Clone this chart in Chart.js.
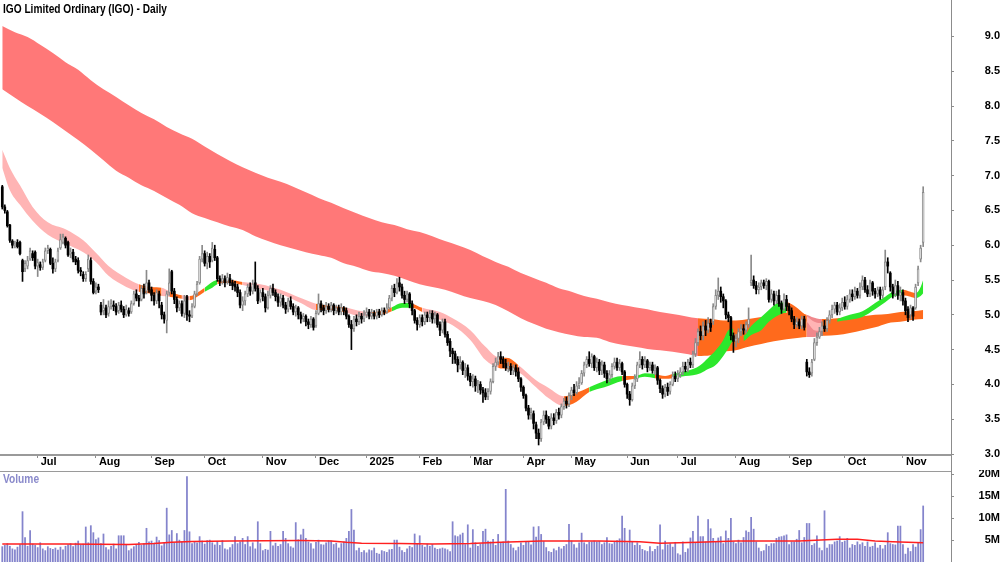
<!DOCTYPE html>
<html><head><meta charset="utf-8">
<script src="https://cdn.jsdelivr.net/npm/chart.js@4.4.1/dist/chart.umd.min.js"></script>
<style>
html,body{margin:0;padding:0;background:#fff;}
#wrap{position:relative;width:1000px;height:562px;overflow:hidden;background:#fff;}
#c1{position:absolute;left:0;top:0;}
#c2{position:absolute;left:0;top:470px;}
.lbl{position:absolute;font-family:'Liberation Sans',Arial,sans-serif;font-weight:bold;white-space:nowrap;transform-origin:0 0;}
#axisjoin{position:absolute;left:951px;top:455px;width:1px;height:16px;background:#8c8c8c;}
</style></head><body>
<div id="wrap">
<canvas id="c1" width="1000" height="470"></canvas>
<canvas id="c2" width="1000" height="92"></canvas>
<div id="axisjoin"></div>
<div class="lbl" style="left:3px;top:2px;font-size:13px;line-height:13px;color:#000;transform:scaleX(0.78);">IGO Limited Ordinary (IGO) - Daily</div>
<div class="lbl" style="left:3px;top:473px;font-size:12px;line-height:12px;color:#8a8acb;transform:scaleX(0.85);">Volume</div>
</div>
<script>
// ---- category / tick data ----
const monthIdx = [14,37,59,80,103,124,144,165,185,206,225,247,267,290,311,333,356];
const monthLbl = ['Jul','Aug','Sep','Oct','Nov','Dec','2025','Feb','Mar','Apr','May','Jun','Jul','Aug','Sep','Oct','Nov'];
const priceTicks = [3.0,3.5,4.0,4.5,5.0,5.5,6.0,6.5,7.0,7.5,8.0,8.5,9.0];
const volTicks = [5,10,15,20];

// ---- daily prices (cents) ----
const open = [
684,655,648,629,606,600,604,604,578,566, 570,580,588,590,570,572,568,578,592,594,
574,566,578,596,604,610,604,588,590,580, 578,564,558,552,566,578,548,534,540,514,
506,510,502,512,514,512,506,514,508,500, 506,504,516,530,524,522,538,534,546,536,
528,520,530,514,500,492,532,562,534,522, 510,516,502,526,500,498,512,530,546,580,
588,574,584,578,594,582,552,548,552,548, 552,546,544,540,532,514,520,530,540,534,
546,538,522,532,526,510,528,538,532,526, 518,524,514,508,520,512,504,510,500,494,
498,490,486,494,484,502,516,510,506,512, 508,514,506,510,504,510,506,498,486,480,
494,490,498,494,500,504,498,502,498,504, 500,506,504,510,524,538,532,546,540,528,
522,530,516,506,492,486,496,490,500,496, 502,494,500,486,478,490,472,462,448,444,
436,428,432,420,424,412,404,408,398,400, 392,388,382,390,404,426,432,440,436,430,
424,426,420,424,418,408,396,384,366,356, 358,342,330,322,346,356,350,340,352,348,
360,356,368,376,372,384,392,388,398,402, 416,428,436,430,440,424,432,420,428,416,
408,414,426,432,424,430,418,400,386,378, 398,408,428,436,428,434,424,428,420,424,
406,394,386,396,390,400,412,408,414,418, 426,422,432,428,444,460,476,470,484,478,
488,490,512,528,534,526,520,500,496,470, 462,466,476,480,478,486,546,550,542,536,
540,546,542,548,522,530,520,528,516,508, 522,512,506,494,486,490,484,494,432,418,
416,436,460,468,476,484,480,492,500,508, 514,504,510,518,512,522,530,526,534,528,
540,550,536,530,546,534,530,536,528,540, 576,560,540,530,542,528,532,520,508,500,
510,510,546,580,604];
const high = [
686,658,650,630,608,606,608,606,580,578, 584,596,592,592,580,576,580,596,600,596,
582,580,596,616,616,612,606,596,594,584, 582,568,562,562,586,582,552,546,544,518,
522,514,520,522,520,516,518,520,512,514, 510,520,534,536,528,542,544,564,550,540,
532,536,534,518,504,534,566,564,538,526, 520,520,528,528,506,516,534,548,584,600,
592,590,588,604,600,584,556,558,556,560, 558,550,548,544,536,526,534,544,546,550,
576,542,536,538,530,534,542,544,536,530, 530,528,518,524,526,516,514,512,504,502,
500,494,498,496,506,530,520,514,518,516, 518,516,514,514,516,512,510,500,492,498,
500,504,502,506,510,508,508,506,508,508, 510,510,516,528,542,544,552,554,544,534,
534,532,520,508,496,500,500,504,504,506, 506,504,502,490,494,494,476,466,452,448,
440,440,434,430,428,416,414,412,406,404, 396,394,394,408,430,438,446,447,440,436,
432,430,428,428,424,410,398,386,370,366, 362,346,336,350,362,362,354,358,358,364,
366,372,380,382,388,396,400,404,410,420, 432,440,447,444,442,438,436,434,432,420,
420,430,438,438,436,432,420,402,390,402, 414,432,447,440,440,436,432,432,428,426,
408,398,400,402,404,418,418,420,424,432, 432,436,438,448,466,480,484,490,492,496,
494,516,536,553,540,530,522,504,498,474, 472,480,486,486,490,510,586,556,548,546,
550,550,552,550,536,534,534,536,520,530, 528,516,510,498,496,494,498,498,436,424,
436,466,474,482,490,492,496,506,514,518, 518,516,524,526,528,536,536,540,538,546,
556,554,542,550,548,538,540,540,540,593, 582,562,544,550,548,540,536,524,512,514,
512,544,570,600,684];
const low = [
652,646,626,604,596,596,596,586,548,562, 566,578,578,566,555,564,565,576,588,572,
560,562,576,594,602,596,584,582,576,572, 560,556,548,548,562,544,530,530,532,500,
500,496,498,508,506,500,502,504,496,498, 498,502,514,520,512,520,524,530,532,520,
514,516,510,494,488,474,528,530,516,504, 506,498,496,492,490,496,510,528,544,576,
570,566,568,576,578,548,542,544,540,544, 542,536,534,526,510,506,514,526,528,530,
534,516,518,520,504,508,524,528,520,512, 512,510,502,504,508,500,498,494,488,490,
484,480,482,478,482,500,504,500,502,504, 504,500,502,500,500,500,494,482,450,476,
484,486,488,490,496,494,494,494,494,496, 498,500,502,508,520,526,530,534,524,516,
518,510,500,488,478,482,484,486,490,490, 488,488,482,470,474,468,456,440,430,430,
418,422,414,410,406,398,396,390,388,386, 374,378,378,386,402,420,428,430,424,420,
418,414,414,412,404,390,380,362,350,350, 336,322,313,318,342,344,336,336,342,344,
350,352,364,366,368,378,384,386,394,400, 412,424,426,424,420,418,414,414,410,402,
404,410,422,420,420,414,396,380,370,376, 394,404,424,422,424,418,420,416,414,400,
388,380,382,384,386,398,404,404,410,414, 418,418,424,424,440,456,464,464,470,474,
476,486,508,522,518,510,494,490,464,446, 454,460,470,472,474,482,542,538,530,530,
536,538,536,518,518,514,516,512,502,506, 506,500,490,480,482,480,480,478,412,410,
412,434,456,466,470,476,476,488,496,502, 500,500,506,508,508,518,520,522,524,524,
536,532,526,526,528,524,526,522,524,536, 560,534,524,526,522,520,514,500,490,494,
492,508,542,576,598];
const close = [
655,650,628,607,600,602,598,588,562,574, 578,592,582,570,575,568,576,592,596,574,
566,576,592,608,612,600,586,590,580,576, 564,562,552,558,580,548,532,540,536,504,
510,500,512,516,512,504,514,508,500,508, 502,516,530,524,520,538,530,546,536,528,
520,532,520,500,494,530,546,534,522,510, 516,502,520,500,498,512,530,544,580,588,
574,584,576,596,582,552,548,552,546,554, 546,542,540,532,514,520,530,540,534,544,
538,520,532,526,510,528,538,532,526,518, 524,514,508,520,512,504,510,500,494,498,
490,486,494,482,502,516,510,506,512,508, 514,506,510,504,510,506,498,486,480,494,
490,498,494,500,504,498,502,498,504,500, 506,504,510,524,538,532,546,540,528,522,
530,516,506,492,486,496,490,500,496,502, 494,500,486,478,490,472,460,448,444,436,
428,432,420,424,412,404,408,398,400,392, 388,382,390,404,426,432,440,436,430,424,
426,420,424,418,408,396,384,366,356,360, 344,330,322,346,356,350,340,352,348,360,
356,368,376,372,384,392,388,398,402,416, 428,436,430,440,424,432,420,428,416,408,
414,426,432,424,430,418,400,386,378,398, 408,428,436,428,434,424,428,420,424,406,
394,386,396,390,400,412,408,414,418,426, 422,432,428,444,460,476,470,484,478,488,
482,512,528,534,526,520,500,496,470,462, 466,476,480,478,486,494,550,542,536,540,
546,542,548,522,530,520,528,516,508,522, 512,506,494,486,490,484,494,482,418,414,
432,460,468,476,484,480,492,500,508,514, 504,510,518,512,522,530,526,534,528,540,
550,536,530,546,534,530,536,528,536,576, 570,540,530,542,528,532,520,506,496,510,
498,540,566,596,676];

// ---- volume (millions) ----
const volume = [
3.5,3.8,4.2,3.6,3.0,2.8,3.4,4.0,11.5,5.6, 3.6,7.2,4.1,3.8,3.3,4.4,3.0,2.6,3.5,3.1,
2.9,3.2,2.7,3.4,2.8,3.6,3.9,4.2,3.5,4.3, 4.8,3.9,4.1,8.0,4.4,8.3,6.7,5.1,5.5,4.2,
6.4,3.3,2.8,3.6,4.1,3.0,6.0,6.0,6.0,4.0, 2.6,3.0,3.5,4.0,4.5,3.8,4.2,7.7,4.6,4.8,
4.3,5.7,4.9,3.7,4.4,12.3,6.2,7.2,4.4,6.5, 5.0,4.6,7.2,19.5,6.9,4.2,4.6,4.4,5.8,4.8,
4.1,4.9,5.0,4.4,3.9,4.7,3.8,4.9,3.0,2.8, 3.3,4.0,5.8,4.2,4.6,5.4,4.0,5.8,3.5,4.4,
3.0,9.2,4.2,2.6,2.9,2.7,7.0,3.7,4.3,3.6, 4.0,7.0,5.4,4.2,3.5,3.2,9.0,5.1,6.2,7.5,
5.4,4.6,4.2,3.0,4.5,5.0,4.0,3.9,4.4,4.9, 4.8,4.0,4.3,3.2,4.2,4.6,5.4,7.0,12.0,7.3,
2.6,3.2,2.2,2.6,2.1,2.8,2.6,3.2,2.0,1.8, 2.6,2.4,2.2,2.8,2.9,5.0,5.0,3.4,2.6,2.2,
3.0,3.6,3.3,6.4,4.2,6.0,3.8,3.4,4.1,3.6, 4.0,3.2,2.9,3.0,3.2,3.0,2.8,2.4,9.2,6.0,
5.8,6.2,6.6,4.0,8.5,3.2,7.4,4.4,3.6,4.1, 7.0,7.5,4.8,4.6,5.2,3.8,6.3,4.3,4.6,16.6,
4.8,4.0,3.2,2.6,3.4,4.4,3.8,4.6,4.6,3.9, 8.0,5.7,8.1,6.3,4.7,3.3,2.4,2.2,3.0,2.6,
3.4,3.0,3.6,4.0,8.6,4.8,4.0,3.2,4.4,6.6, 4.4,4.0,4.5,4.6,4.8,4.6,4.7,4.0,4.4,5.6,
4.2,4.1,4.6,4.9,5.3,10.5,7.7,4.4,7.3,4.6, 3.8,4.4,3.8,2.9,2.6,2.4,3.5,2.4,2.9,3.6,
8.5,2.8,4.8,3.9,4.2,3.4,4.5,1.9,1.6,4.6, 2.2,3.0,5.5,7.0,4.4,10.5,5.8,5.8,4.6,9.7,
7.6,5.4,4.6,5.5,5.8,4.2,7.1,5.4,10.0,4.6, 4.2,5.0,4.4,5.6,7.1,6.8,10.2,7.5,4.6,3.2,
2.4,2.6,4.0,3.6,4.2,4.2,5.4,5.7,5.8,6.0, 6.2,4.0,4.6,4.6,5.2,7.2,4.4,5.6,8.8,8.8,
3.8,4.2,6.0,3.2,2.6,11.7,3.2,4.0,4.0,4.6, 4.8,5.8,4.5,4.8,5.4,3.2,4.0,3.8,4.6,4.0,
4.4,3.6,4.6,3.4,3.6,4.4,3.2,3.8,3.0,3.8, 6.7,4.2,4.0,3.9,8.2,8.2,4.0,1.8,3.2,2.4,
4.0,3.4,4.4,7.4,12.8];
const maX = [0,25,50,60,67,75,90,118,130,136,142,157,170,185,197,213,236,252,260,275,290,315,330,338,345,352,364];
const maV = [4.1,4.1,4.0,4.2,4.5,4.7,4.8,4.9,4.8,4.5,4.3,4.2,4.1,4.2,4.5,4.8,4.8,4.6,4.3,4.5,4.8,4.8,5.2,5.2,4.8,4.6,4.4];

// ---- long-term ribbon (read at sample bars) ----
const longX = [0,5,10,15,20,25,30,35,40,45,50,55,60,65,70,75,80,85,90,95,100,105,110,115,120,125,130,135,140,145,150,155,160,165,170,175,180,185,190,195,200,205,210,215,220,225,230,235,240,245,250,255,260,265,270,275,280,285,290,295,300,305,310,315,318,320,324,325,330,335,340,345,350,355,360,364];
const longHi = [9.15,9.06,8.99,8.88,8.76,8.63,8.52,8.37,8.24,8.13,8.01,7.90,7.81,7.70,7.61,7.53,7.42,7.31,7.21,7.12,7.04,6.97,6.91,6.84,6.76,6.68,6.61,6.53,6.46,6.39,6.33,6.29,6.23,6.19,6.13,6.06,6.00,5.93,5.84,5.76,5.69,5.60,5.53,5.46,5.38,5.33,5.27,5.23,5.18,5.14,5.11,5.08,5.04,5.01,4.98,4.95,4.94,4.92,4.92,4.94,4.97,5.00,5.03,5.03,5.00,4.97,4.94,4.94,4.95,4.97,4.98,5.00,5.01,5.04,5.05,5.07];
const longLo = [8.24,8.12,8.00,7.89,7.77,7.64,7.51,7.37,7.22,7.07,6.97,6.86,6.78,6.68,6.58,6.46,6.39,6.33,6.27,6.22,6.13,6.06,6.00,5.95,5.90,5.86,5.82,5.74,5.69,5.63,5.60,5.56,5.50,5.44,5.40,5.36,5.30,5.24,5.20,5.14,5.05,4.95,4.87,4.80,4.75,4.71,4.68,4.67,4.61,4.57,4.54,4.51,4.49,4.47,4.44,4.41,4.42,4.47,4.49,4.54,4.58,4.62,4.65,4.67,4.68,4.68,4.70,4.70,4.71,4.74,4.78,4.82,4.88,4.90,4.93,4.94];
const longCol = "RRRRRRRRRRRRRRRRRRRRRRRRRRRRRRRRRRRRRRRRRRRRRRRRRRRRRRROOOOOOOOOPPOOOOOOOOOO";

// ---- short-term ribbon (read at sample bars) ----
const shortX = [0,3,7,12,18,25,32,37,42,49,54,59,63,66,71,74,78,80,83,85,90,95,102,110,118,124,130,136,142,146,151,154,158,162,166,173,178,185,191,196,200,204,211,216,222,227,232,238,245,250,254,258,262,265,270,273,276,279,282,285,287,289,291,293,296,300,303,306,310,313,318,321,324,327,330,335,340,345,349,352,356,359,361,363,364];
const shortHi = [7.37,7.11,6.86,6.55,6.33,6.23,6.07,5.89,5.70,5.53,5.44,5.40,5.39,5.34,5.28,5.27,5.34,5.39,5.47,5.50,5.50,5.47,5.44,5.36,5.24,5.16,5.13,5.10,5.05,5.04,5.07,5.11,5.17,5.16,5.10,5.04,4.95,4.78,4.54,4.39,4.38,4.28,4.06,3.95,3.83,3.88,3.96,4.05,4.12,4.12,4.16,4.15,4.12,4.15,4.19,4.22,4.28,4.38,4.49,4.64,4.78,4.80,4.75,4.70,4.84,4.97,5.07,5.16,5.18,5.13,4.98,4.90,4.88,4.91,4.94,5.00,5.05,5.17,5.26,5.33,5.36,5.33,5.31,5.40,5.50];
const shortLo = [7.11,6.79,6.58,6.35,6.15,6.02,5.90,5.76,5.56,5.40,5.33,5.30,5.27,5.26,5.23,5.21,5.28,5.33,5.39,5.44,5.46,5.43,5.37,5.30,5.17,5.07,5.07,5.03,4.98,4.98,5.01,5.05,5.10,5.10,5.04,4.93,4.85,4.64,4.35,4.24,4.22,4.18,3.96,3.80,3.69,3.75,3.89,3.96,4.05,4.08,4.11,4.09,4.08,4.09,4.12,4.13,4.16,4.22,4.28,4.41,4.52,4.62,4.61,4.62,4.71,4.78,4.90,4.98,5.03,5.00,4.90,4.78,4.77,4.84,4.90,4.93,4.97,5.08,5.18,5.26,5.28,5.26,5.24,5.27,5.31];
const shortCol = "PPPPPPPPPPOOPOPOOGGOOPPPPOOPPOOGGOPPPPPOOPPPOOGGOGGOOGGGGGGGGOOGGGGGOOPPOOGGGGGGOOGGG";

// ---- styling ----
const FONT = "'Liberation Sans',Arial,sans-serif";
const LONG_C = {R:'#ff7878', O:'#ff6a1c', P:'#f0888c'};
const SHORT_C = {P:'#ffb4b4', O:'#ff6a1c', G:'#2ce82c'};
const X_MIN = -0.9, X_MAX = 375;
const CLEAR = 'rgba(0,0,0,0)';
const AXIS = '#8c8c8c';

const idx = close.map((_, i) => i);
const up = i => close[i] >= open[i];

function band(xs, ys) { return xs.map((g, i) => ({x: g, y: ys[i]})); }

// secondary right axis: only the short tick marks next to the axis line
function markAxis(min, max, ticks) {
  return { type:'linear', position:'right', min, max, weight:0,
    afterBuildTicks: s => { s.ticks = ticks.map(v => ({value:v})); },
    afterFit: s => { s.width = 0; },
    grid:{drawOnChartArea:false, tickLength:3, color:AXIS},
    border:{display:false},
    ticks:{display:false} };
}

new Chart(document.getElementById('c1'), {
  data: {
    datasets: [
      { type:'line', data: band(longX, longHi), fill:'+1', borderWidth:0, borderColor:CLEAR, pointRadius:0,
        cubicInterpolationMode:'monotone', backgroundColor: LONG_C.R,
        segment:{ backgroundColor: c => LONG_C[longCol[c.p0DataIndex]] }, order: 20 },
      { type:'line', data: band(longX, longLo), fill:false, borderWidth:0, borderColor:CLEAR, pointRadius:0,
        cubicInterpolationMode:'monotone', order: 21 },
      { type:'line', data: band(shortX, shortHi), fill:'+1', borderWidth:0, borderColor:CLEAR, pointRadius:0,
        cubicInterpolationMode:'monotone', backgroundColor: SHORT_C.P,
        segment:{ backgroundColor: c => SHORT_C[shortCol[c.p0DataIndex]] }, order: 10 },
      { type:'line', data: band(shortX, shortLo), fill:false, borderWidth:0, borderColor:CLEAR, pointRadius:0,
        cubicInterpolationMode:'monotone', order: 11 },
      { type:'bar', data: idx.map(i => ({x:i, y:[low[i]/100, high[i]/100]})), grouped:false, barThickness:1,
        backgroundColor: c => up(c.dataIndex) ? '#8a8a8a' : '#000000', borderWidth:0, order: 2 },
      { type:'bar', data: idx.map(i => ({x:i, y:[open[i]/100, close[i]/100]})), grouped:false,
        barThickness: c => up(c.dataIndex) ? 3 : 2,
        minBarLength:1, borderSkipped:false,
        backgroundColor: c => up(c.dataIndex) ? '#ffffff' : '#000000',
        borderColor: c => up(c.dataIndex) ? '#8a8a8a' : '#000000',
        borderWidth: c => up(c.dataIndex) ? 1 : 0, order: 1 }
    ]
  },
  options: {
    responsive:false, animation:false, devicePixelRatio:1, events:[],
    layout:{padding:0},
    plugins:{legend:{display:false}, tooltip:{enabled:false}},
    scales:{
      x:{ type:'linear', min:X_MIN, max:X_MAX, position:'bottom', offset:false,
          afterBuildTicks: s => { s.ticks = monthIdx.map(v => ({value:v})); },
          afterFit: s => { s.height = 15; },
          grid:{drawOnChartArea:false, drawTicks:true, tickLength:3, color:AXIS, offset:false},
          border:{display:true, color:'#9a9a9a', width:2},
          ticks:{autoSkip:false, maxRotation:0, minRotation:0, align:'start', labelOffset:3, padding:-3, color:'#000',
                 font:{family:FONT, size:11, weight:'bold'},
                 callback: v => monthLbl[monthIdx.indexOf(v)] } },
      yMarks: markAxis(2.986, 9.523, priceTicks),
      y:{ type:'linear', position:'right', min:2.986, max:9.523, weight:1,
          afterBuildTicks: s => { s.ticks = priceTicks.map(v => ({value:v})); },
          afterFit: s => { s.width = 49; },
          grid:{drawOnChartArea:false, tickLength:36, tickColor:CLEAR, color:AXIS},
          border:{display:true, color:AXIS, width:1},
          ticks:{crossAlign:'far', padding:-7, color:'#000', font:{family:FONT, size:11, weight:'bold'},
                 callback: v => v.toFixed(1) } }
    }
  }
});

new Chart(document.getElementById('c2'), {
  data: {
    datasets: [
      { type:'line', data: band(maX, maV), borderColor:'#ff2020', borderWidth:1.5, pointRadius:0, fill:false, order: 0 },
      { type:'bar', data: idx.map(i => ({x:i, y:volume[i]})), grouped:false, barThickness:1.1,
        backgroundColor:'#8484cc', borderWidth:0, order: 1 }
    ]
  },
  options: {
    responsive:false, animation:false, devicePixelRatio:1, events:[],
    layout:{padding:0},
    plugins:{legend:{display:false}, tooltip:{enabled:false}},
    scales:{
      x:{ type:'linear', min:X_MIN, max:X_MAX, position:'top', offset:false,
          afterFit: s => { s.height = 1; },
          grid:{drawOnChartArea:false, drawTicks:false, offset:false},
          border:{display:true, color:'#9a9a9a', width:1},
          ticks:{display:false} },
      yMarks: markAxis(0, 20.78, volTicks),
      y:{ type:'linear', position:'right', min:0, max:20.78, weight:1,
          afterBuildTicks: s => { s.ticks = volTicks.map(v => ({value:v})); },
          afterFit: s => { s.width = 49; },
          grid:{drawOnChartArea:false, tickLength:31, tickColor:CLEAR, color:AXIS},
          border:{display:true, color:AXIS, width:1},
          ticks:{crossAlign:'far', padding:-7, color:'#000', font:{family:FONT, size:11, weight:'bold'},
                 callback: v => v + 'M' } }
    }
  }
});
</script>
</body></html>
